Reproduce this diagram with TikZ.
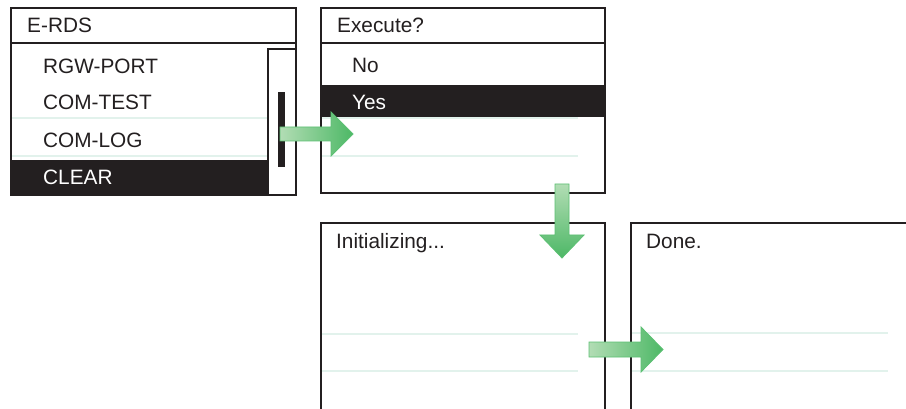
\documentclass[tikz,border=0pt]{standalone}
\usepackage{fontspec}
\setmainfont{Liberation Sans}
\definecolor{ink}{HTML}{231F20}
\definecolor{faint}{HTML}{E2F2EC}
\definecolor{glight}{HTML}{B2DDB4}
\definecolor{gdark}{HTML}{4DB866}
\definecolor{gedge}{HTML}{5CC073}
\tikzset{
  screen/.style={draw=ink, line width=2pt, fill=white},
  band/.style={fill=ink, draw=none},
  faintline/.style={draw=faint, line width=1.2pt},
  lbl/.style={anchor=base west, inner sep=0pt, text=ink, font=\fontsize{20.8}{24}\selectfont},
  sellbl/.style={lbl, text=white},
  garrowh/.style={draw=gedge, line width=0.8pt, left color=glight, right color=gdark},
  garrowv/.style={draw=gedge, line width=0.8pt, top color=glight, bottom color=gdark},
}
\begin{document}
\begin{tikzpicture}[x=1pt,y=-1pt]
\useasboundingbox (0,0) rectangle (906,409);
\fill[white] (0,0) rectangle (906,409);
\clip (0,0) rectangle (906,409);
% Screen 1
\draw[screen] (11,8) rectangle (296,195);
\draw[faintline] (11,118) -- (268,118);
\draw[faintline] (11,156) -- (268,156);
\fill[band] (11,160) rectangle (268,195);
\draw[ink, line width=2pt] (11,43) -- (296,43);
\draw[ink, line width=2pt] (268,195) -- (268,49) -- (296,49);
\fill[ink] (278,92) rectangle (285,167);
\draw[screen, fill=none] (11,8) rectangle (296,195);
\node[lbl] (t1) at (27,33) {E-RDS};
\node[lbl] (i1) at (43,74) {RGW-PORT};
\node[lbl] (i2) at (43,110) {COM-TEST};
\node[lbl] (i3) at (43,148) {COM-LOG};
\node[sellbl] (i4) at (43,185) {CLEAR};
% Screen 2
\draw[screen] (321,8) rectangle (605,193);
\fill[band] (321,85) rectangle (605,117);
\draw[faintline] (321,118) -- (578,118);
\draw[faintline] (321,156) -- (578,156);
\draw[ink, line width=2pt] (321,43) -- (605,43);
\draw[screen, fill=none] (321,8) rectangle (605,193);
\node[lbl] (t2) at (337,33) {Execute?};
\node[lbl] (n2) at (352,73) {No};
\node[sellbl] (y2) at (352,110) {Yes};
% Screen 3
\draw[screen] (321,223) rectangle (605,420);
\draw[faintline] (321,334) -- (578,334);
\draw[faintline] (321,371) -- (578,371);
\draw[screen, fill=none] (321,223) rectangle (605,420);
\node[lbl] (t3) at (336,249) {Initializing...};
% Screen 4
\draw[screen] (631,223) rectangle (930,420);
\draw[faintline] (631,333) -- (888,333);
\draw[faintline] (631,371) -- (888,371);
\draw[screen, fill=none] (631,223) rectangle (930,420);
\node[lbl] (t4) at (646,249) {Done.};
% Arrows
\path[garrowh] (280,127) -- (331,127) -- (331,112) -- (353,134) -- (331,156) -- (331,141) -- (280,141) -- cycle;
\path[garrowv] (555,184) -- (569,184) -- (569,235) -- (584,235) -- (562,258) -- (540,235) -- (555,235) -- cycle;
\path[garrowh] (589,342) -- (641,342) -- (641,327) -- (663,349.5) -- (641,372) -- (641,357) -- (589,357) -- cycle;
\end{tikzpicture}
\end{document}
